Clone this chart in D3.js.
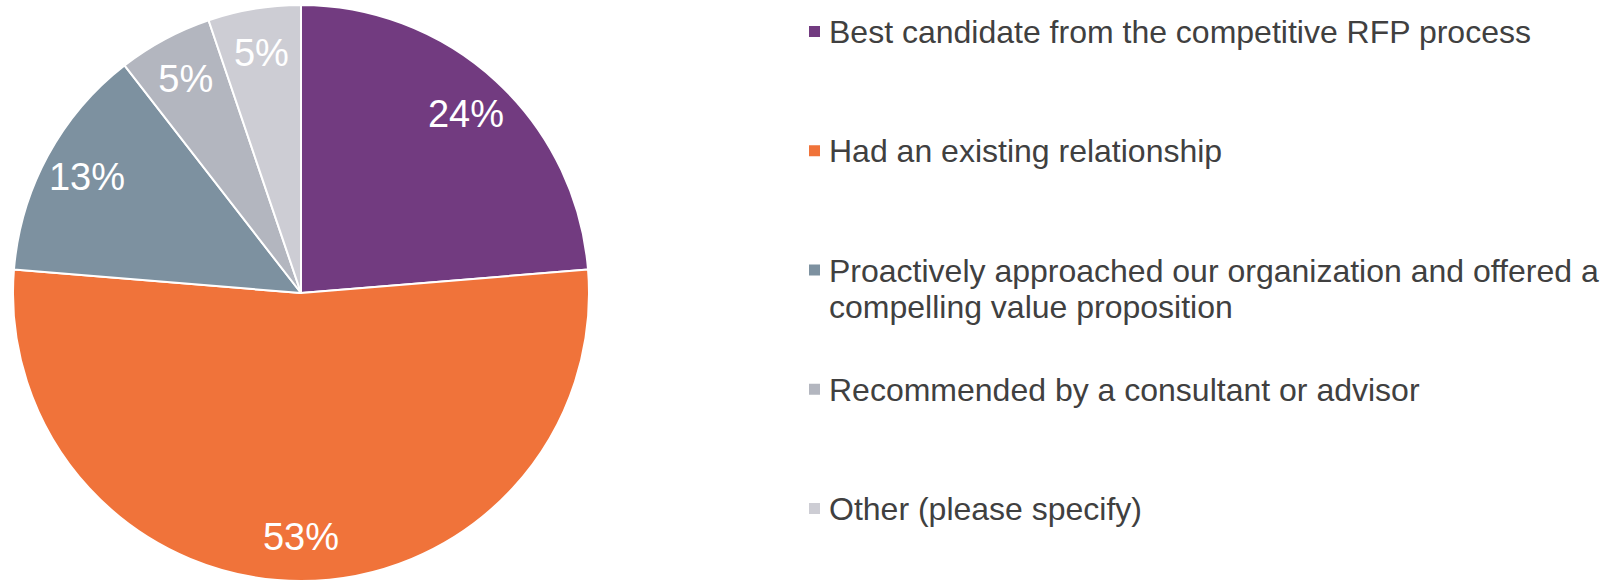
<!DOCTYPE html>
<html>
<head>
<meta charset="utf-8">
<script src="https://cdn.jsdelivr.net/npm/d3@7"></script>
<style>
  html, body { margin: 0; padding: 0; background: #fff; }
  svg { display: block; font-family: "Liberation Sans", Arial, sans-serif; }
</style>
</head>
<body>
<div id="chart"></div>
<script>
// Data
const categories = [
  "Best candidate from the competitive RFP process",
  "Had an existing relationship",
  "Proactively approached our organization and offered a\ncompelling value proposition",
  "Recommended by a consultant or advisor",
  "Other (please specify)"
];
const shares = [23.7, 52.6, 13.2, 5.3, 5.2];
const colors = ["#723b80", "#f0733a", "#7d91a0", "#b3b6bf", "#cdcdd4"];

const width = 1606;
const height = 580;
const center = { x: 301, y: 293 };
const radius = 288;

const data = categories.map((c, i) => ({ category: c, value: shares[i], color: colors[i] }));

const svg = d3.select("#chart")
  .append("svg")
  .attr("width", width)
  .attr("height", height)
  .attr("viewBox", [0, 0, width, height]);

// Pie
const pie = d3.pie()
  .value(d => d.value)
  .sort(null);

const arcs = pie(data);

const arcGen = d3.arc()
  .innerRadius(0)
  .outerRadius(radius);

const labelArc = d3.arc()
  .innerRadius(radius * 0.845)
  .outerRadius(radius * 0.845);

const pieGroup = svg.append("g")
  .attr("transform", `translate(${center.x}, ${center.y})`);

pieGroup.selectAll("path")
  .data(arcs)
  .join("path")
    .attr("d", arcGen)
    .attr("fill", d => d.data.color)
    .attr("stroke", "#fff")
    .attr("stroke-width", 2)
    .attr("stroke-linejoin", "round");

pieGroup.selectAll("text")
  .data(arcs)
  .join("text")
    .attr("transform", d => `translate(${labelArc.centroid(d)})`)
    .attr("text-anchor", "middle")
    .attr("dy", "0.35em")
    .attr("fill", "#fff")
    .attr("font-size", 38)
    .text(d => `${Math.round(d.data.value)}%`);

// Legend
const legendY = d3.scalePoint()
  .domain(categories)
  .range([32, 509]);

const legend = svg.append("g")
  .attr("transform", "translate(809, 0)");

const items = legend.selectAll("g")
  .data(data)
  .join("g")
    .attr("transform", d => `translate(0, ${legendY(d.category)})`);

items.append("rect")
  .attr("x", 0)
  .attr("y", -6)
  .attr("width", 11)
  .attr("height", 11)
  .attr("fill", d => d.color);

items.append("text")
  .attr("fill", "#404040")
  .attr("font-size", 32)
  .selectAll("tspan")
  .data(d => d.category.split("\n"))
  .join("tspan")
    .attr("x", 20)
    .attr("y", (d, i) => i * 36)
    .attr("dy", "0.35em")
    .text(d => d);
</script>
</body>
</html>
